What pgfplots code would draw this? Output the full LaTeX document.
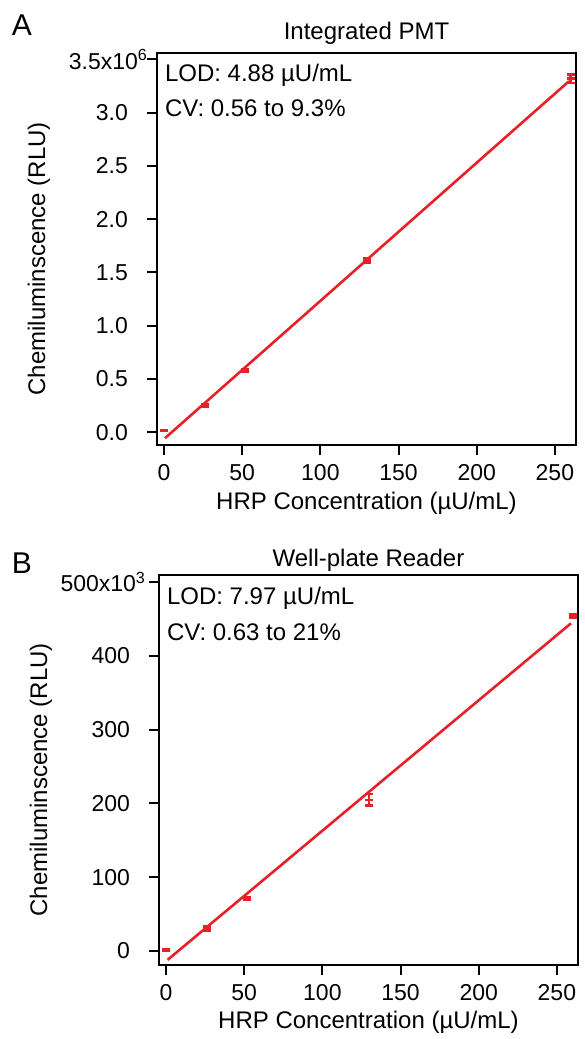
\documentclass[border=0pt]{standalone}
\usepackage{pgfplots}
\pgfplotsset{compat=1.18}
\usepackage{fontspec}
\setmainfont{Liberation Sans}
\definecolor{fitred}{RGB}{232,32,40}

\pgfplotsset{
  cal/.style={
    scale only axis,
    width=209.5pt,
    axis line style={line width=1pt},
    every tick/.style={line width=1pt, black},
    major tick length=5pt,
    tick align=outside,
    tick pos=left,
    xmin=-4.5, xmax=263.5,
    xtick={0,50,...,250},
    scaled y ticks=false,
    /pgf/number format/assume math mode=true,
    ticklabel style={font=\fontsize{11.5}{13}\selectfont},
    yticklabel style={xshift=-6pt},
    xticklabel style={yshift=-1pt},
    label style={font=\fontsize{12}{14}\selectfont},
    xlabel={HRP Concentration (µU/mL)},
    ylabel={Chemiluminscence (RLU)},
    xlabel style={at={(axis description cs:0.5,-0.148)}, anchor=center},
    ylabel style={at={(axis description cs:-0.282,0.475)}, anchor=center},
    clip=false,
  },
  ebar/.style={
    fitred, only marks, mark=-, mark size=2pt,
    mark options={line width=1.2pt, fitred},
    error bars/.cd, y dir=both, y explicit,
    error bar style={line width=1.2pt, fitred},
    error mark options={rotate=90, mark size=2pt, line width=1.2pt, fitred},
  },
}

\begin{document}
\begin{tikzpicture}
\useasboundingbox (-78.5pt,-297pt) rectangle (213.5pt,222.5pt);

% A: integrated PMT
\begin{axis}[cal,
  height=196pt,
  ymin=-120000, ymax=3560000,
  ytick={0,500000,1000000,1500000,2000000,2500000,3000000,3500000},
  yticklabels={0.0,0.5,1.0,1.5,2.0,2.5,3.0,{3.5x10\textsuperscript{6}\kern-10pt}},
]
\addplot[ebar] coordinates {
  (0,15000) +- (0,5000)
  (26,250000) +- (0,12000)
  (52,580000) +- (0,12000)
  (130,1610000) +- (0,20000)
  (260,3320000) +- (0,40000)
};
\addplot[fitred, line width=1.3pt] coordinates {(0.6,-56000) (259,3295000)};
\node[font=\fontsize{12}{14}\selectfont] at (rel axis cs:0.5,1) [yshift=10pt] {Integrated PMT};
\node[anchor=mid west, font=\fontsize{12}{14}\selectfont] at (rel axis cs:0,1) [xshift=0.5pt, yshift=-11.5pt] {LOD: 4.88 µU/mL};
\node[anchor=mid west, font=\fontsize{12}{14}\selectfont] at (rel axis cs:0,1) [xshift=0.5pt, yshift=-29pt] {CV: 0.56 to 9.3\%};
\end{axis}

% B: well-plate reader
\begin{axis}[cal,
  at={(1pt,-260pt)},
  height=195pt,
  ymin=-19, ymax=509.5,
  ytick={0,100,200,300,400,500},
  yticklabels={0,100,200,300,400,{500x10\textsuperscript{3}\kern-8pt}},
]
\addplot[ebar] coordinates {
  (0,1) +- (0,1)
  (26,31) +- (0,3)
  (52,71) +- (0,1.5)
  (130,205) +- (0,8)
  (260,454) +- (0,3)
};
\addplot[fitred, line width=1.3pt] coordinates {(1,-12) (259,444)};
\node[font=\fontsize{12}{14}\selectfont] at (rel axis cs:0.5,1) [yshift=7.5pt] {Well-plate Reader};
\node[anchor=mid west, font=\fontsize{12}{14}\selectfont] at (rel axis cs:0,1) [xshift=0.5pt, yshift=-12pt] {LOD: 7.97 µU/mL};
\node[anchor=mid west, font=\fontsize{12}{14}\selectfont] at (rel axis cs:0,1) [xshift=0.5pt, yshift=-30pt] {CV: 0.63 to 21\%};
\end{axis}

\node[font=\fontsize{15}{18}\selectfont] at (-67.5pt,210pt) {A};
\node[font=\fontsize{15}{18}\selectfont] at (-67.5pt,-59pt) {B};
\end{tikzpicture}
\end{document}
